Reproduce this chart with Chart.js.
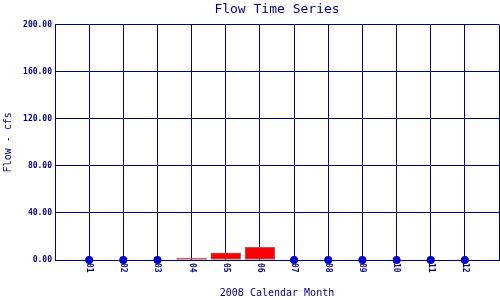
<!DOCTYPE html>
<html>
<head>
<meta charset="utf-8">
<script src="https://cdn.jsdelivr.net/npm/chart.js@4/dist/chart.umd.min.js"></script>
<style>
  html, body { margin: 0; padding: 0; background: #ffffff; }
  #wrap { width: 500px; height: 300px; }
</style>
</head>
<body>
<div id="wrap"><canvas id="c" width="500" height="300"></canvas></div>
<script>
const chartTitle = 'Flow Time Series';
const xTitle = '2008 Calendar Month';
const yTitle = 'Flow - cfs';
const months = ['01','02','03','04','05','06','07','08','09','10','11','12'];
const flow = [0, 0, 0, 1.7, 6, 11, 0, 0, 0, 0, 0, 0];
const yMin = 0, yMax = 200, yStep = 40;

const NAVY = '#000080';
const MONO = '"DejaVu Sans Mono", "Liberation Mono", monospace';

// pad with an empty slot at each end so months sit on grid lines
const labels = [''].concat(months, ['']);
const barData = [null].concat(flow.map(v => v > 0 ? v : null), [null]);
const dotData = [null].concat(flow.map(v => v === 0 ? v : null), [null]);

const xLabelPlugin = {
  id: 'xLabels',
  afterDraw(chart) {
    const ctx = chart.ctx;
    const xs = chart.scales.x;
    const y0 = chart.chartArea.bottom + 3;
    ctx.save();
    ctx.fillStyle = NAVY;
    ctx.font = 'bold 8px ' + MONO;
    ctx.textAlign = 'left';
    ctx.textBaseline = 'middle';
    months.forEach((m, i) => {
      const x = xs.getPixelForValue(i + 1);
      ctx.save();
      ctx.translate(x, y0);
      ctx.rotate(Math.PI / 2);
      ctx.fillText(m, 0, 0);
      ctx.restore();
    });
    ctx.restore();
  }
};

new Chart(document.getElementById('c'), {
  type: 'bar',
  data: {
    labels: labels,
    datasets: [
      {
        type: 'line',
        data: dotData,
        showLine: false,
        pointRadius: 4,
        pointHoverRadius: 4,
        pointBackgroundColor: '#0000cc',
        pointBorderColor: '#0000cc',
        pointBorderWidth: 0,
        clip: false,
        order: 0
      },
      {
        type: 'bar',
        data: barData,
        backgroundColor: '#ff0000',
        borderColor: '#808080',
        borderWidth: 1,
        borderSkipped: false,
        barThickness: 30,
        order: 1
      }
    ]
  },
  options: {
    responsive: false,
    animation: false,
    events: [],
    layout: { autoPadding: false, padding: { left: 0, right: 1, top: 0, bottom: 0 } },
    plugins: {
      legend: { display: false },
      tooltip: { enabled: false },
      title: {
        display: true,
        text: chartTitle,
        color: NAVY,
        fullSize: false,
        font: { family: MONO, size: 13, weight: 'normal' },
        padding: { top: 2, bottom: 7 }
      }
    },
    scales: {
      x: {
        type: 'category',
        offset: false,
        grid: { color: NAVY, lineWidth: 1, drawTicks: false, offset: false },
        border: { color: NAVY, width: 1 },
        ticks: { display: false },
        title: {
          display: true,
          text: xTitle,
          color: NAVY,
          font: { family: MONO, size: 10 },
          padding: { top: 0, bottom: 1 }
        },
        afterFit(scale) { scale.height = 40; scale.paddingLeft = 0; scale.paddingRight = 0; }
      },
      y: {
        min: yMin,
        max: yMax,
        grid: { color: NAVY, lineWidth: 1, drawTicks: false },
        border: { color: NAVY, width: 1 },
        ticks: {
          stepSize: yStep,
          color: NAVY,
          padding: 3,
          font: { family: MONO, size: 8, weight: 'bold' },
          callback: v => Number(v).toFixed(2)
        },
        title: {
          display: true,
          text: yTitle,
          color: NAVY,
          font: { family: MONO, size: 10 },
          padding: { top: 2, bottom: 0 }
        },
        afterFit(scale) { scale.width = 55; }
      }
    }
  },
  plugins: [xLabelPlugin]
});
</script>
</body>
</html>
